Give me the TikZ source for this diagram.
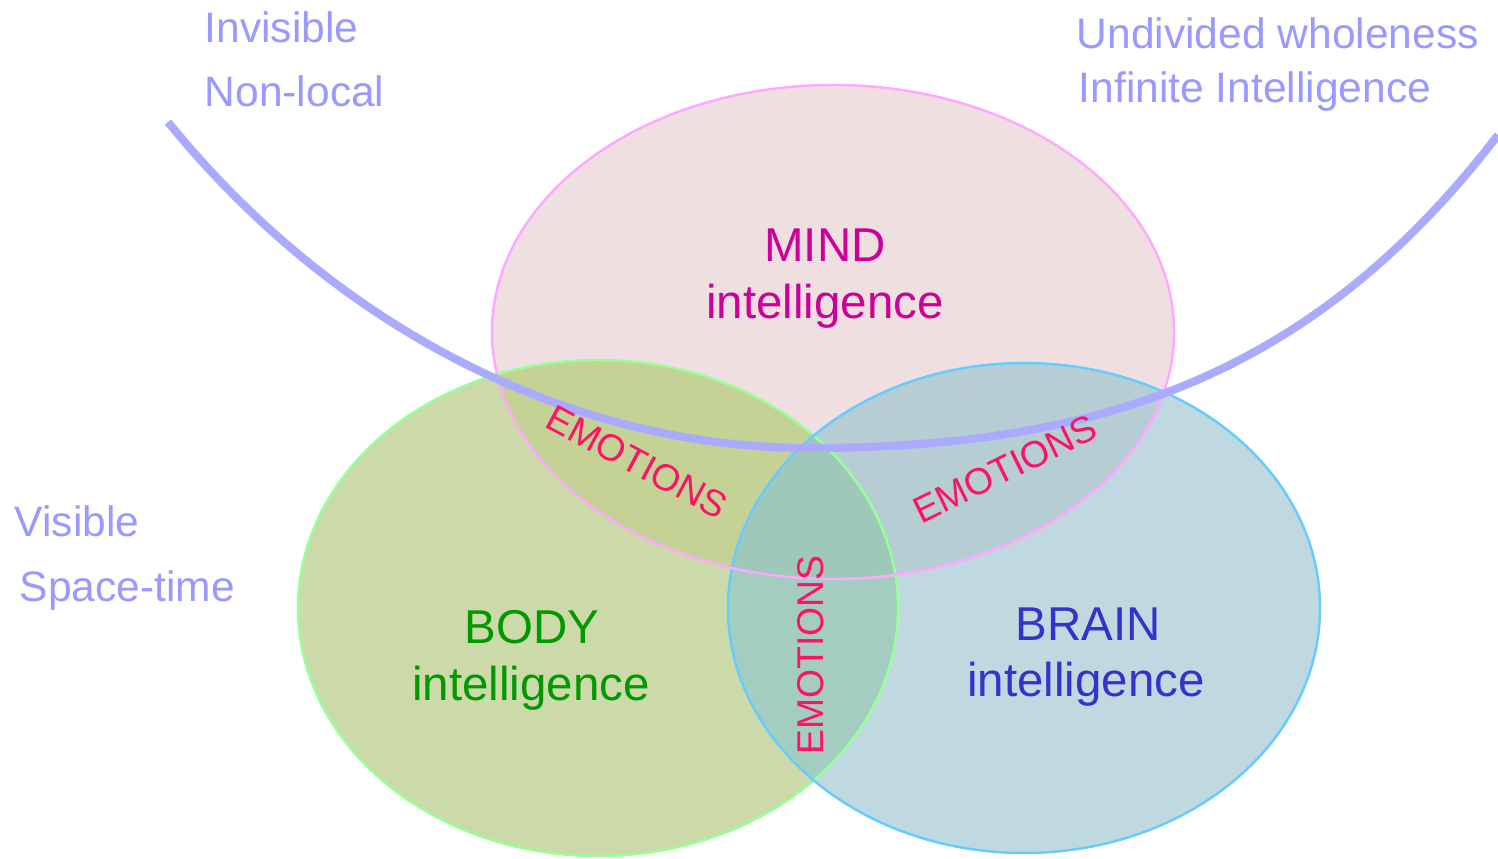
\documentclass[tikz,border=0pt]{standalone}
\usepackage{fontspec}
\setmainfont{Liberation Sans}
\usepackage{xcolor}
\usetikzlibrary{positioning}
\definecolor{mindfill}{HTML}{F0DFE1}
\definecolor{bodyfill}{HTML}{CBDAA8}
\definecolor{brainfill}{HTML}{C0D8E0}
\definecolor{bodymindfill}{HTML}{C5D296}
\definecolor{brainmindfill}{HTML}{B6CDD4}
\definecolor{bodybrainfill}{HTML}{A3CDC0}
\definecolor{allfill}{HTML}{9FC8B8}
\definecolor{mindline}{HTML}{FFA8FF}
\definecolor{bodyline}{HTML}{99FF99}
\definecolor{brainline}{HTML}{66CCFF}
\definecolor{curvecol}{HTML}{AAAAFF}
\definecolor{sidecol}{HTML}{9999FF}
\definecolor{mindtext}{HTML}{CC0099}
\definecolor{bodytext}{HTML}{009900}
\definecolor{braintext}{HTML}{3333CC}
\definecolor{emocol}{HTML}{FF1166}

\begin{document}
\begin{tikzpicture}[x=0.01cm, y=-0.01cm,
	side/.style={anchor=base west, inner sep=0pt, text=sidecol, font=\fontsize{12.1}{14}\selectfont},
	title/.style={anchor=base, inner sep=0pt, font=\fontsize{13.5}{16}\selectfont},
	emo/.style={inner sep=0pt, text=emocol, font=\fontsize{10.6}{12}\selectfont}]
	\newcommand\mindRx{341}
	\newcommand\mindRy{247}
	\newcommand\bodyRx{300}
	\newcommand\bodyRy{248}
	\newcommand\brainRx{296}
	\newcommand\brainRy{245}
	\useasboundingbox (0,0) rectangle (1498,858);
	\coordinate (mind) at (833,332);
	\coordinate (body) at (598,608);
	\coordinate (brain) at (1024,608);
	% plain fills
	\fill[mindfill] (mind) ellipse [x radius=\mindRx, y radius=\mindRy];
	\fill[bodyfill] (body) ellipse [x radius=\bodyRx, y radius=\bodyRy];
	\fill[brainfill] (brain) ellipse [x radius=\brainRx, y radius=\brainRy];
	% overlaps
	\begin{scope}
		\clip (mind) ellipse [x radius=\mindRx, y radius=\mindRy];
		\fill[bodymindfill] (body) ellipse [x radius=\bodyRx, y radius=\bodyRy];
		\fill[brainmindfill] (brain) ellipse [x radius=\brainRx, y radius=\brainRy];
	\end{scope}
	\begin{scope}
		\clip (body) ellipse [x radius=\bodyRx, y radius=\bodyRy];
		\fill[bodybrainfill] (brain) ellipse [x radius=\brainRx, y radius=\brainRy];
		\clip (mind) ellipse [x radius=\mindRx, y radius=\mindRy];
		\fill[allfill] (brain) ellipse [x radius=\brainRx, y radius=\brainRy];
	\end{scope}
	% outlines
	\draw[bodyline, line width=0.7pt] (body) ellipse [x radius=\bodyRx, y radius=\bodyRy];
	\draw[brainline, line width=0.7pt] (brain) ellipse [x radius=\brainRx, y radius=\brainRy];
	\draw[mindline, line width=0.7pt] (mind) ellipse [x radius=\mindRx, y radius=\mindRy];
	% the big curve
	\coordinate (cstart) at (168,122);
	\coordinate (cbottom) at (810,448);
	\coordinate (cend) at (1498,135);
	\draw[curvecol, line width=2.3pt] (cstart) .. controls (328,319) and (560,448) .. (cbottom)
		.. controls (1110,448) and (1318,369) .. (cend);
	% texts
	\node[title, text=mindtext] (mindname) at (825,262) {MIND};
	\node[title, text=mindtext] (mindintel) at (825,318) {intelligence};
	\node[title, text=bodytext] (bodyname) at (532,643) {BODY};
	\node[title, text=bodytext] (bodyintel) at (531,700) {intelligence};
	\node[title, text=braintext] (brainname) at (1088,640) {BRAIN};
	\node[title, text=braintext] (brainintel) at (1086,696) {intelligence};
	\node[emo, rotate=-28] (emoleft) at (637,462) {EMOTIONS};
	\node[emo, rotate=26] (emoright) at (1005,469) {EMOTIONS};
	\node[emo, rotate=90] (emomid) at (811,655) {EMOTIONS};
	\node[side] (invis) at (204,43) {Invisible};
	\node[side] (nonlocal) at (204,107) {Non-local};
	\node[side] (undivided) at (1076,49) {Undivided wholeness};
	\node[side] (infinite) at (1078,103) {Infinite Intelligence};
	\node[side] (visible) at (14,536) {Visible};
	\node[side] (spacetime) at (19,601) {Space-time};
\end{tikzpicture}
\end{document}
